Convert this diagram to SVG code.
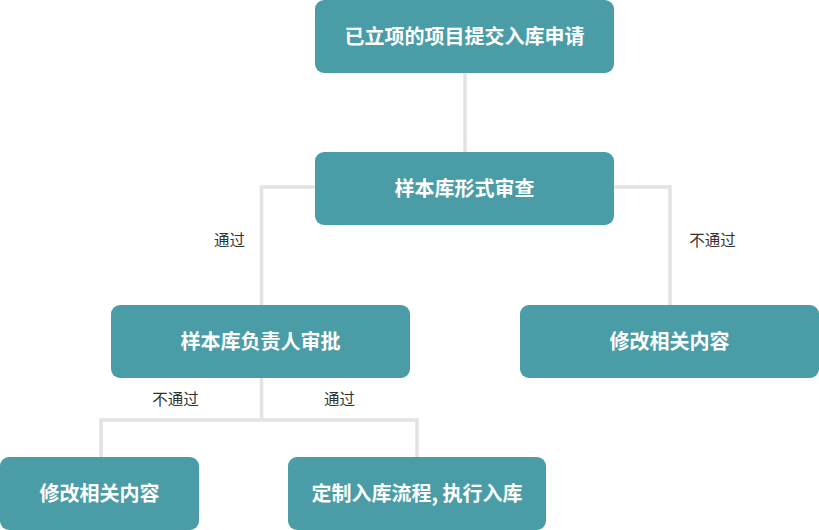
<svg xmlns="http://www.w3.org/2000/svg" width="819" height="530" viewBox="0 0 819 530">
<style>
.n{fill:#4a9da6}
.t{fill:#fff;font-family:"Noto Sans CJK SC","Noto Sans",sans-serif;font-size:20px;font-weight:bold;text-anchor:middle;dominant-baseline:central}
.l{fill:#333;font-family:"Noto Sans CJK SC","Noto Sans",sans-serif;font-size:15.5px;text-anchor:middle;dominant-baseline:central}
.c{fill:none;stroke:#e3e3e3;stroke-width:3.5}
</style>
<rect width="819" height="530" fill="#fff"/>
<g id="connectors">
<path class="c" d="M465 73V152"/>
<path class="c" d="M315 187H261.5V305"/>
<path class="c" d="M613 187H670V305"/>
<path class="c" d="M261.5 378V420"/>
<path class="c" d="M101 457V420H417V457"/>
</g>
<g id="labels">
<text class="l" x="229.5" y="239">通过</text>
<text class="l" x="712.5" y="239">不通过</text>
<text class="l" x="175.5" y="398">不通过</text>
<text class="l" x="339.5" y="398">通过</text>
</g>
<g id="n1"><rect class="n" x="315" y="0" width="299" height="73" rx="9"/><text class="t" x="464.5" y="35">已立项的项目提交入库申请</text></g>
<g id="n2"><rect class="n" x="315" y="152" width="299" height="73" rx="9"/><text class="t" x="464.5" y="187">样本库形式审查</text></g>
<g id="n3"><rect class="n" x="111" y="305" width="299" height="73" rx="9"/><text class="t" x="260.5" y="340">样本库负责人审批</text></g>
<g id="n4"><rect class="n" x="520" y="305" width="299" height="73" rx="9"/><text class="t" x="669.5" y="340">修改相关内容</text></g>
<g id="n5"><rect class="n" x="0" y="457" width="199" height="73" rx="9"/><text class="t" x="99.5" y="492">修改相关内容</text></g>
<g id="n6"><rect class="n" x="288" y="457" width="258" height="73" rx="9"/><text class="t" x="417" y="492">定制入库流程, 执行入库</text></g>
</svg>
